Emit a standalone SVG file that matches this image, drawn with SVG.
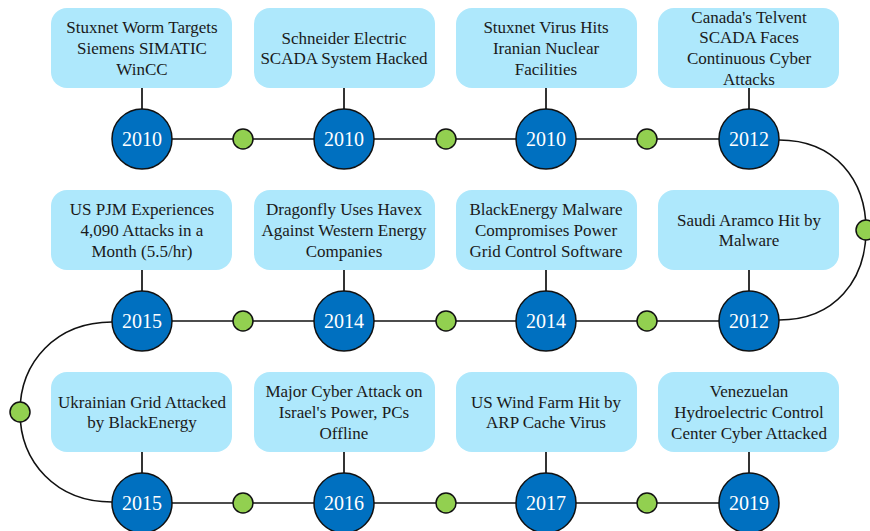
<svg xmlns="http://www.w3.org/2000/svg" width="870" height="531" viewBox="0 0 870 531">
<style>
.box{fill:#aee8fc;}
.t{font-family:"Liberation Serif","Times New Roman",serif;font-size:17px;fill:#1a1a1a;text-anchor:middle;}
.yr{fill:#0070c0;stroke:#111;stroke-width:1.5;}
.y{font-family:"Liberation Serif","Times New Roman",serif;font-size:20px;fill:#fff;text-anchor:middle;}
.dot{fill:#92d050;stroke:#111;stroke-width:1.5;}
.ln{fill:none;stroke:#111;stroke-width:1.6;}
.vl{stroke:#333;stroke-width:2;}
</style>
<rect width="870" height="531" fill="#fff"/>
<g id="connectors">
<line class="ln" x1="142" y1="139" x2="749" y2="139"/>
<line class="ln" x1="142" y1="321" x2="749" y2="321"/>
<line class="ln" x1="142" y1="503" x2="749" y2="503"/>
<path class="ln" d="M779 140 C835 140 866 180 866 230 C866 280 835 320 779 320"/>
<path class="ln" d="M112 322 C56 322 20 362 20 412 C20 462 56 502 112 502"/>
<line class="vl" x1="142" y1="88" x2="142" y2="109"/>
<line class="vl" x1="344" y1="88" x2="344" y2="109"/>
<line class="vl" x1="546" y1="88" x2="546" y2="109"/>
<line class="vl" x1="749" y1="88" x2="749" y2="109"/>
<line class="vl" x1="142" y1="270" x2="142" y2="291"/>
<line class="vl" x1="344" y1="270" x2="344" y2="291"/>
<line class="vl" x1="546" y1="270" x2="546" y2="291"/>
<line class="vl" x1="749" y1="270" x2="749" y2="291"/>
<line class="vl" x1="142" y1="452" x2="142" y2="473"/>
<line class="vl" x1="344" y1="452" x2="344" y2="473"/>
<line class="vl" x1="546" y1="452" x2="546" y2="473"/>
<line class="vl" x1="749" y1="452" x2="749" y2="473"/>
</g>
<g id="dots">
<circle class="dot" cx="243" cy="139" r="10"/><circle class="dot" cx="446" cy="139" r="10"/><circle class="dot" cx="647" cy="139" r="10"/>
<circle class="dot" cx="243" cy="321" r="10"/><circle class="dot" cx="446" cy="321" r="10"/><circle class="dot" cx="647" cy="321" r="10"/>
<circle class="dot" cx="243" cy="503" r="10"/><circle class="dot" cx="446" cy="503" r="10"/><circle class="dot" cx="647" cy="503" r="10"/>
<circle class="dot" cx="866" cy="230" r="10"/>
<circle class="dot" cx="20" cy="412" r="10"/>
</g>
<g id="e1"><rect class="box" x="51" y="8" width="181" height="80" rx="16"/><text class="t"><tspan x="142" y="32.5">Stuxnet Worm Targets</tspan><tspan x="142" y="53.5">Siemens SIMATIC</tspan><tspan x="142" y="74.5">WinCC</tspan></text><circle class="yr" cx="142" cy="139" r="30"/><text class="y" x="142" y="146">2010</text></g>
<g id="e2"><rect class="box" x="254" y="8" width="181" height="80" rx="16"/><text class="t"><tspan x="344" y="43.5">Schneider Electric</tspan><tspan x="344" y="64">SCADA System Hacked</tspan></text><circle class="yr" cx="344" cy="139" r="30"/><text class="y" x="344" y="146">2010</text></g>
<g id="e3"><rect class="box" x="456" y="8" width="181" height="80" rx="16"/><text class="t"><tspan x="546" y="32.5">Stuxnet Virus Hits</tspan><tspan x="546" y="53.5">Iranian Nuclear</tspan><tspan x="546" y="74.5">Facilities</tspan></text><circle class="yr" cx="546" cy="139" r="30"/><text class="y" x="546" y="146">2010</text></g>
<g id="e4"><rect class="box" x="658" y="8" width="181" height="80" rx="16"/><text class="t"><tspan x="749" y="22.5">Canada's Telvent</tspan><tspan x="749" y="43">SCADA Faces</tspan><tspan x="749" y="64">Continuous Cyber</tspan><tspan x="749" y="84.5">Attacks</tspan></text><circle class="yr" cx="749" cy="139" r="30"/><text class="y" x="749" y="146">2012</text></g>
<g id="e5"><rect class="box" x="658" y="190" width="181" height="80" rx="16"/><text class="t"><tspan x="749" y="225.5">Saudi Aramco Hit by</tspan><tspan x="749" y="246">Malware</tspan></text><circle class="yr" cx="749" cy="321" r="30"/><text class="y" x="749" y="328">2012</text></g>
<g id="e6"><rect class="box" x="456" y="190" width="181" height="80" rx="16"/><text class="t"><tspan x="546" y="214.5">BlackEnergy Malware</tspan><tspan x="546" y="235.5">Compromises Power</tspan><tspan x="546" y="256.5">Grid Control Software</tspan></text><circle class="yr" cx="546" cy="321" r="30"/><text class="y" x="546" y="328">2014</text></g>
<g id="e7"><rect class="box" x="254" y="190" width="181" height="80" rx="16"/><text class="t"><tspan x="344" y="214.5">Dragonfly Uses Havex</tspan><tspan x="344" y="235.5">Against Western Energy</tspan><tspan x="344" y="256.5">Companies</tspan></text><circle class="yr" cx="344" cy="321" r="30"/><text class="y" x="344" y="328">2014</text></g>
<g id="e8"><rect class="box" x="51" y="190" width="181" height="80" rx="16"/><text class="t"><tspan x="142" y="214.5">US PJM Experiences</tspan><tspan x="142" y="235.5">4,090 Attacks in a</tspan><tspan x="142" y="256.5">Month (5.5/hr)</tspan></text><circle class="yr" cx="142" cy="321" r="30"/><text class="y" x="142" y="328">2015</text></g>
<g id="e9"><rect class="box" x="51" y="372" width="181" height="80" rx="16"/><text class="t"><tspan x="142" y="407.5">Ukrainian Grid Attacked</tspan><tspan x="142" y="428">by BlackEnergy</tspan></text><circle class="yr" cx="142" cy="503" r="30"/><text class="y" x="142" y="510">2015</text></g>
<g id="e10"><rect class="box" x="254" y="372" width="181" height="80" rx="16"/><text class="t"><tspan x="344" y="396.5">Major Cyber Attack on</tspan><tspan x="344" y="417.5">Israel's Power, PCs</tspan><tspan x="344" y="438.5">Offline</tspan></text><circle class="yr" cx="344" cy="503" r="30"/><text class="y" x="344" y="510">2016</text></g>
<g id="e11"><rect class="box" x="456" y="372" width="181" height="80" rx="16"/><text class="t"><tspan x="546" y="407.5">US Wind Farm Hit by</tspan><tspan x="546" y="428">ARP Cache Virus</tspan></text><circle class="yr" cx="546" cy="503" r="30"/><text class="y" x="546" y="510">2017</text></g>
<g id="e12"><rect class="box" x="658" y="372" width="181" height="80" rx="16"/><text class="t"><tspan x="749" y="396.5">Venezuelan</tspan><tspan x="749" y="417.5">Hydroelectric Control</tspan><tspan x="749" y="438.5">Center Cyber Attacked</tspan></text><circle class="yr" cx="749" cy="503" r="30"/><text class="y" x="749" y="510">2019</text></g>
</svg>
